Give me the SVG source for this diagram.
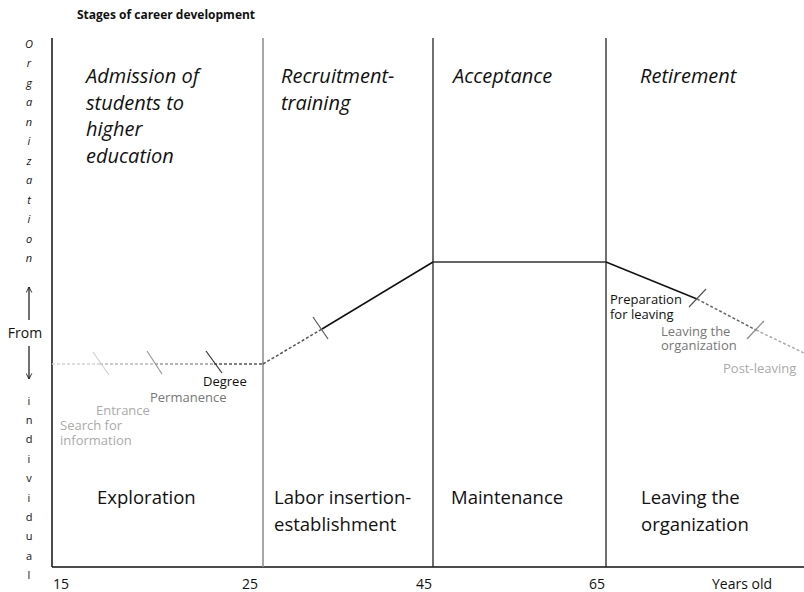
<svg xmlns="http://www.w3.org/2000/svg" width="804" height="592" viewBox="0 0 804 592">
  <defs>
    <style>
      text { font-family: "Open Sans", "Noto Sans", "DejaVu Sans", sans-serif; fill: #111; }
      .title { font-size: 12px; font-weight: bold; }
      .head { font-size: 20px; font-style: italic; }
      .stage { font-size: 18.5px; }
      .small { font-size: 13px; }
      .num { font-size: 14px; }
      .axisL { font-size: 11px; text-anchor: middle; }
      .ital { font-style: italic; }
      .frame { stroke: #111; stroke-width: 1.5; fill: none; }
      .divider { stroke: #222; stroke-width: 1.3; }
      .divGray { stroke: #888; stroke-width: 1.5; }
      .solid { stroke: #111; stroke-width: 1.5; fill: none; }
      .dash { stroke-width: 1.5; stroke-dasharray: 3 2; fill: none; }
      .tick { stroke-width: 1.2; }
      .mid { fill: #777; }
      .light { fill: #aaa; }
    </style>
    <marker id="arrowOpen" viewBox="0 0 10 10" refX="9" refY="5" markerWidth="7" markerHeight="7" orient="auto" markerUnits="userSpaceOnUse">
      <path d="M1,1 L9,5 L1,9" fill="none" stroke="#111" stroke-width="1.2"/>
    </marker>
  </defs>

  <rect width="804" height="592" fill="#fff"/>

  <text class="title" x="77" y="19">Stages of career development</text>

  <!-- frame: axes and stage dividers -->
  <g id="frame">
    <line class="frame" x1="52" y1="38" x2="52" y2="567"/>
    <line class="frame" x1="52" y1="567" x2="804" y2="567"/>
    <line class="divGray" x1="263" y1="38" x2="263" y2="567"/>
    <line class="divider" x1="433" y1="38" x2="433" y2="567"/>
    <line class="divider" x1="606" y1="38" x2="606" y2="567"/>
  </g>

  <!-- vertical axis caption -->
  <g id="y-axis">
    <g class="axisL ital">
      <text x="29" y="48">O</text>
      <text x="29" y="67">r</text>
      <text x="29" y="87">g</text>
      <text x="29" y="106">a</text>
      <text x="29" y="126">n</text>
      <text x="29" y="145">i</text>
      <text x="29" y="165">z</text>
      <text x="29" y="184">a</text>
      <text x="29" y="204">t</text>
      <text x="29" y="223">i</text>
      <text x="29" y="243">o</text>
      <text x="29" y="262">n</text>
    </g>
    <line x1="29" y1="320" x2="29" y2="287" stroke="#111" stroke-width="1.2" marker-end="url(#arrowOpen)"/>
    <text class="num" x="25" y="338" text-anchor="middle">From</text>
    <line x1="29" y1="346" x2="29" y2="379" stroke="#111" stroke-width="1.2" marker-end="url(#arrowOpen)"/>
    <g class="axisL">
      <text x="29" y="405">i</text>
      <text x="29" y="424">n</text>
      <text x="29" y="443">d</text>
      <text x="29" y="463">i</text>
      <text x="29" y="482">v</text>
      <text x="29" y="502">i</text>
      <text x="29" y="521">d</text>
      <text x="29" y="540">u</text>
      <text x="29" y="560">a</text>
      <text x="29" y="579">l</text>
    </g>
  </g>

  <!-- horizontal axis labels -->
  <g id="x-axis" class="num">
    <text x="53" y="589">15</text>
    <text x="242" y="589">25</text>
    <text x="416" y="589">45</text>
    <text x="589" y="589">65</text>
    <text x="712" y="589">Years old</text>
  </g>

  <!-- stage 1 -->
  <g id="stage-exploration">
    <text class="head" x="86" y="83">Admission of</text>
    <text class="head" x="86" y="110">students to</text>
    <text class="head" x="86" y="136">higher</text>
    <text class="head" x="86" y="163">education</text>
    <text class="stage" x="97" y="504">Exploration</text>
  </g>

  <!-- stage 2 -->
  <g id="stage-establishment">
    <text class="head" x="281" y="83">Recruitment-</text>
    <text class="head" x="281" y="110">training</text>
    <text class="stage" x="274" y="504">Labor insertion-</text>
    <text class="stage" x="274" y="531">establishment</text>
  </g>

  <!-- stage 3 -->
  <g id="stage-maintenance">
    <text class="head" x="453" y="83">Acceptance</text>
    <text class="stage" x="451" y="504">Maintenance</text>
  </g>

  <!-- stage 4 -->
  <g id="stage-leaving">
    <text class="head" x="640" y="83">Retirement</text>
    <text class="stage" x="641" y="504">Leaving the</text>
    <text class="stage" x="641" y="531">organization</text>
  </g>

  <!-- career curve with its milestones -->
  <g id="connectors">
    <line class="dash" stroke="#d4d4d4" x1="52" y1="364" x2="100" y2="364"/>
    <line class="dash" stroke="#bbb" x1="100" y1="364" x2="155" y2="364"/>
    <line class="dash" stroke="#999" x1="155" y1="364" x2="214" y2="364"/>
    <line class="dash" stroke="#555" x1="214" y1="364" x2="263" y2="364"/>
    <line class="dash" stroke="#555" x1="263" y1="364" x2="322" y2="329"/>
    <line class="solid" x1="322" y1="329" x2="433" y2="262"/>
    <line stroke="#333" stroke-width="1.5" x1="433" y1="262" x2="606" y2="262"/>
    <line class="solid" x1="606" y1="262" x2="697" y2="299"/>
    <line class="dash" stroke="#666" x1="697" y1="299" x2="756" y2="330"/>
    <line class="dash" stroke="#aaa" x1="756" y1="330" x2="804" y2="353"/>

    <line class="tick" stroke="#d0d0d0" x1="93" y1="352" x2="109" y2="375"/>
    <line class="tick" stroke="#999" x1="147" y1="351" x2="162" y2="374"/>
    <line class="tick" stroke="#333" x1="206" y1="351" x2="222" y2="373"/>
    <line class="tick" stroke="#555" x1="313" y1="317" x2="328" y2="339"/>
    <line class="tick" stroke="#555" x1="689" y1="307" x2="706" y2="289"/>
    <line class="tick" stroke="#888" x1="747" y1="339" x2="764" y2="321"/>
  </g>

  <!-- milestone labels -->
  <g id="milestones" class="small">
    <text x="203" y="386">Degree</text>
    <text class="mid" x="150" y="402">Permanence</text>
    <text class="light" x="96" y="415">Entrance</text>
    <text class="light" x="60" y="430">Search for</text>
    <text class="light" x="60" y="445">information</text>
    <text x="610" y="304">Preparation</text>
    <text x="610" y="319">for leaving</text>
    <text class="mid" x="661" y="336">Leaving the</text>
    <text class="mid" x="661" y="350">organization</text>
    <text class="light" x="723" y="373">Post-leaving</text>
  </g>
</svg>
